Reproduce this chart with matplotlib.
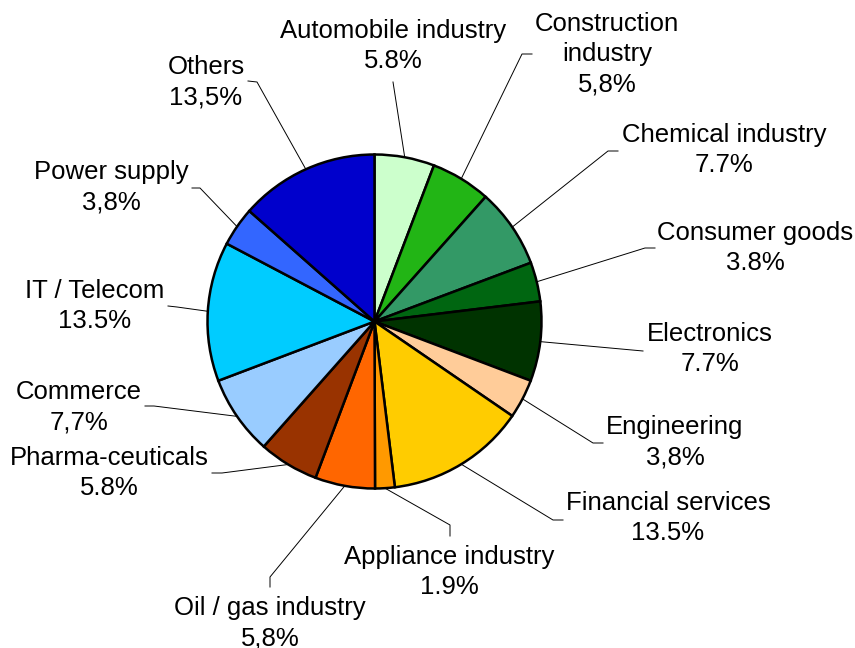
import matplotlib
matplotlib.use("Agg")
import matplotlib.pyplot as plt
import numpy as np

# Share of companies by industry sector (%), clockwise from 12 o'clock
sectors = [
    "Automobile industry", "Construction\nindustry", "Chemical industry",
    "Consumer goods", "Electronics", "Engineering", "Financial services",
    "Appliance industry", "Oil / gas industry", "Pharma-ceuticals",
    "Commerce", "IT / Telecom", "Power supply", "Others",
]
shares = [5.8, 5.8, 7.7, 3.8, 7.7, 3.8, 13.5, 1.9, 5.8, 5.8, 7.7, 13.5, 3.8, 13.5]
# decimal separators as printed on each label
share_text = ["5.8%", "5,8%", "7.7%", "3.8%", "7.7%", "3,8%", "13.5%",
              "1.9%", "5,8%", "5.8%", "7,7%", "13.5%", "3,8%", "13,5%"]
colors = ["#CCFFCC", "#22B515", "#339966", "#006611", "#003300", "#FFCC99",
          "#FFCC00", "#FF9900", "#FF6600", "#993300", "#99CCFF", "#00CCFF",
          "#3366FF", "#0000CC"]

# Layout in pixels: pie centre, radius, label centres and leader knees/ends
W, H = 855, 648
CX, CY, R = 374.5, 321.5, 167.0
label_px = [(393, 46), (607, 54), (724, 150), (755, 248), (710, 349),
            (675, 442), (668, 518), (449, 572), (270, 623), (109, 473),
            (79, 407), (95, 306), (111, 187), (206, 82)]
knee_px = [(393, 82), (522, 54), (608, 151), (645, 248), (643, 351),
           (593, 443), (553, 520), (450, 525), (270, 577), (222, 473),
           (154, 406), (177, 307), (200, 188), (257, 82)]
end_px = [(393, 82), (532, 54), (618, 151), (655, 248), (643, 351),
          (603, 443), (563, 520), (450, 536), (270, 587), (212, 473),
          (145, 406), (168, 306), (192, 188), (248, 81)]


def to_data(p):
    return ((p[0] - CX) / R, (CY - p[1]) / R)


plt.rcParams["font.family"] = ["Liberation Sans", "DejaVu Sans"]

fig = plt.figure(figsize=(W / 100, H / 100), dpi=100)
ax = fig.add_axes([0, 0, 1, 1])

wedges, _ = ax.pie(
    shares, colors=colors, startangle=90, counterclock=False, radius=1.0,
    center=(0, 0), normalize=True,
    wedgeprops=dict(edgecolor="black", linewidth=1.8),
)
ax.set_xlim(-CX / R, (W - CX) / R)
ax.set_ylim((CY - H) / R, CY / R)
ax.set_aspect("equal")
ax.axis("off")

for w, name, txt, lp, kp, ep in zip(wedges, sectors, share_text,
                                    label_px, knee_px, end_px):
    mid = np.deg2rad((w.theta1 + w.theta2) / 2)
    ax_, ay_ = np.cos(mid), np.sin(mid)
    kx, ky = to_data(kp)
    ex, ey = to_data(ep)
    ax.plot([ax_, kx, ex], [ay_, ky, ey], color="black", lw=0.7,
            solid_joinstyle="miter", zorder=1)
    tx, ty = to_data(lp)
    ax.text(tx, ty, f"{name}\n{txt}", ha="center", va="center",
            fontsize=18.5, linespacing=1.32, color="black")

fig.savefig("out.png", dpi=100, facecolor="white")
